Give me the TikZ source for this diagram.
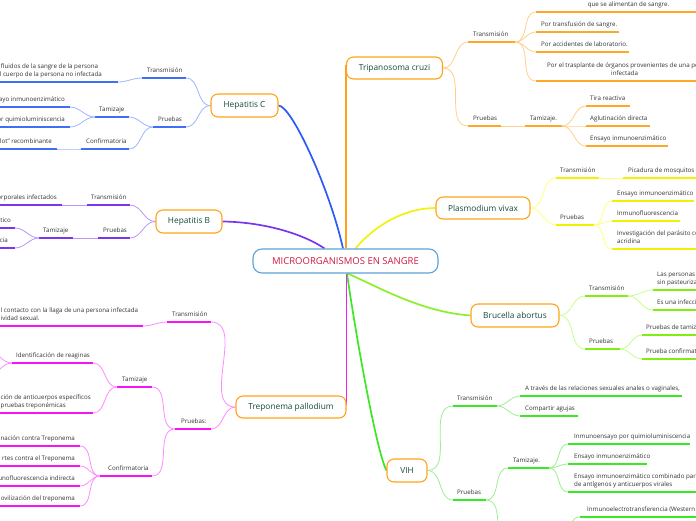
\documentclass[tikz,border=0pt]{standalone}
\usepackage{fontspec}
\setmainfont{Open Sans}
\pgfdeclarelayer{bg}
\pgfsetlayers{bg,main}
\definecolor{hcU}{HTML}{3F6FF2}\definecolor{hcL}{HTML}{9DB7FF}\definecolor{hcM}{HTML}{2D5BF5}
\definecolor{hbU}{HTML}{7A36EE}\definecolor{hbL}{HTML}{B997F5}\definecolor{hbM}{HTML}{7A36EE}
\definecolor{tpU}{HTML}{F514F5}\definecolor{tpL}{HTML}{FF8CFF}\definecolor{tpM}{HTML}{F020F0}
\definecolor{trU}{HTML}{FFA726}\definecolor{trL}{HTML}{FFD08A}\definecolor{trM}{HTML}{FFA21A}
\definecolor{plU}{HTML}{F2F200}\definecolor{plL}{HTML}{FFFF80}\definecolor{plM}{HTML}{F2F20A}
\definecolor{brU}{HTML}{80EE10}\definecolor{brL}{HTML}{C5FF8E}\definecolor{brM}{HTML}{8AF02A}
\definecolor{vhU}{HTML}{3CE826}\definecolor{vhL}{HTML}{9CF090}\definecolor{vhM}{HTML}{3CE826}
\definecolor{torange}{HTML}{FFA319}\definecolor{tgreen}{HTML}{134A3C}
\definecolor{rootb}{HTML}{5BA3DA}\definecolor{rootr}{HTML}{D01A3F}\definecolor{txt}{HTML}{333333}
\newcommand{\mmsmall}{\fontsize{6.2}{8.5}\selectfont}
\newcommand{\mmtopic}{\fontsize{8.3}{10}\selectfont}
\newcommand{\mmroot}{\fontsize{9.5}{11}\selectfont}
\newcommand{\mmsub}[8]{%
  \coordinate (#1-l) at (#3,#5); \coordinate (#1-r) at (#4,#5);
  \draw[ul,#2] (#1-l) -- (#1-r);
  \node[lbl,#6] (#1) at (#7,#5-3.5) {#8};}
\begin{document}
\begin{tikzpicture}[x=1pt,y=-1pt,
  lbl/.style={inner sep=0pt,text depth=1.6pt,text=txt,font=\mmsmall,align=left},
  topic/.style={draw=torange,line width=1.1pt,rounded corners=7pt,fill=white,text=tgreen,font=\mmtopic,inner sep=0pt},
  ul/.style={line width=1.8pt},
  thin/.style={line width=0.8pt},
  mainc/.style={line width=1.7pt}]
\useasboundingbox (0,0) rectangle (696,520);
% root and topics
\node[draw=rootb,line width=1.1pt,rounded corners=9pt,fill=white,text=rootr,font=\mmroot,
  minimum width=185pt,minimum height=24pt,inner sep=0pt] (root) at (345.5,261) {MICROORGANISMOS EN SANGRE};
\node[topic,minimum width=67pt,minimum height=23pt] (hepc) at (244.5,105.5) {Hepatitis C};
\node[topic,minimum width=66pt,minimum height=23pt] (hepb) at (189,221.5) {Hepatitis B};
\node[topic,minimum width=96pt,minimum height=22pt] (tryp) at (394.5,68) {Tripanosoma cruzi};
\node[topic,minimum width=94pt,minimum height=22pt] (plas) at (483,208) {Plasmodium vivax};
\node[topic,minimum width=88pt,minimum height=23pt] (bruc) at (515,315.5) {Brucella abortus};
\node[topic,minimum width=40pt,minimum height=23pt] (vih) at (407,470.5) {VIH};
\node[topic,minimum width=110pt,minimum height=22pt] (trep) at (291,407) {Treponema pallodium};
% Hepatitis C
\mmsub{hcT}{hcU}{142}{186}{78}{anchor=south west}{147}{Transmisión}
\mmsub{hcT1}{hcU}{0}{118}{82}{anchor=south east}{102}{s fluidos de la sangre de la persona\\el cuerpo de la persona no infectada}
\mmsub{hcP}{hcU}{153}{186}{127}{anchor=south west}{158}{Pruebas}
\mmsub{hcTz}{hcU}{95}{129}{117}{anchor=south west}{99}{Tamizaje}
\mmsub{hcTz1}{hcU}{0}{70}{107}{anchor=south east}{65}{sayo inmunoenzimático}
\mmsub{hcTz2}{hcU}{0}{70}{127}{anchor=south east}{65}{tor quimioluminiscencia}
\mmsub{hcC}{hcU}{81}{129}{149}{anchor=south west}{86}{Confirmatoria}
\mmsub{hcC1}{hcU}{0}{57}{149}{anchor=south east}{52}{olot" recombinante}
% Hepatitis B
\mmsub{hbT}{hbU}{87}{130}{205}{anchor=south west}{91}{Transmisión}
\mmsub{hbT1}{hbU}{0}{62}{205}{anchor=south east}{57}{orporales infectados}
\mmsub{hbP}{hbU}{98}{130}{238}{anchor=south west}{103}{Pruebas}
\mmsub{hbTz}{hbU}{39}{73}{238}{anchor=south west}{43}{Tamizaje}
\mmsub{hbTz1}{hbU}{0}{15}{228}{anchor=south east}{11}{tico}
\mmsub{hbTz2}{hbU}{0}{15}{248}{anchor=south east}{8}{cia}
% Treponema
\mmsub{tpT}{tpU}{167}{211}{322}{anchor=south west}{172}{Transmisión}
\mmsub{tpT1}{tpU}{0}{143}{326}{anchor=south west}{0.5}{l contacto con la llaga de una persona infectada\\ividad sexual.}
\mmsub{tpP}{tpU}{175}{211}{429}{anchor=south west}{181}{Pruebas:}
\mmsub{tpTz}{tpU}{117}{152}{387}{anchor=south west}{122}{Tamizaje}
\mmsub{tpTz1}{tpU}{12}{93}{363}{anchor=south west}{16}{Identificación de reaginas}
\mmsub{tpTz2}{tpU}{0}{93}{413}{anchor=south west}{0.5}{ción de anticuerpos específicos\\pruebas treponémicas}
\mmsub{tpC}{tpU}{100}{152}{476}{anchor=south west}{108}{Confirmatoria}
\mmsub{tpC1}{tpU}{0}{80}{446}{anchor=south east}{75}{tinación contra Treponema}
\mmsub{tpC2}{tpU}{0}{80}{466}{anchor=south east}{75}{rtes contra el Treponema}
\mmsub{tpC3}{tpU}{0}{80}{486}{anchor=south east}{75}{unofluorescencia indirecta}
\mmsub{tpC4}{tpU}{0}{80}{506}{anchor=south east}{75}{movilización del treponema}
\coordinate (tpTz1a) at (-14,349);
\coordinate (tpTz1b) at (-14,377);
% Tripanosoma
\mmsub{trT}{trU}{468}{515}{42}{anchor=south west}{473}{Transmisión}
\mmsub{trT1}{trU}{536}{700}{12}{anchor=south,align=center}{628.5}{que se alimentan de sangre.}
\mmsub{trT2}{trU}{536}{619}{32}{anchor=south west}{541}{Por transfusión de sangre.}
\mmsub{trT3}{trU}{536}{629}{52}{anchor=south west}{541}{Por accidentes de laboratorio.}
\mmsub{trT4}{trU}{536}{700}{81}{anchor=south west}{547}{Por el trasplante de órganos provenientes de una per\\\hspace*{64pt}infectada}
\mmsub{trP}{trU}{468}{501}{126}{anchor=south west}{473}{Pruebas}
\mmsub{trTz}{trU}{525}{562}{126}{anchor=south west}{530}{Tamizaje.}
\mmsub{trTz1}{trU}{586}{630}{106}{anchor=south west}{590}{Tira reactiva}
\mmsub{trTz2}{trU}{586}{650}{126}{anchor=south west}{590}{Aglutinación directa}
\mmsub{trTz3}{trU}{586}{668}{146}{anchor=south west}{590}{Ensayo inmunoenzimático}
% Plasmodium
\mmsub{plT}{plU}{556}{599}{178}{anchor=south west}{560}{Transmisión}
\mmsub{plT1}{plU}{623}{700}{178}{anchor=south west}{628}{Picadura de mosquitos a}
\mmsub{plP}{plU}{556}{594}{225}{anchor=south west}{560}{Pruebas}
\mmsub{plP1}{plU}{612}{694}{201}{anchor=south west}{617}{Ensayo inmunoenzimático}
\mmsub{plP2}{plU}{612}{680}{221}{anchor=south west}{617}{Inmunofluorescencia}
\mmsub{plP3}{plU}{612}{700}{249}{anchor=south west}{617}{Investigación del parásito co\\acridina}
% Brucella
\mmsub{brT}{brU}{585}{628}{296}{anchor=south west}{589}{Transmisión}
\mmsub{brT1}{brU}{653}{700}{290}{anchor=south west}{657}{Las personas\\sin pasteuriza}
\mmsub{brT2}{brU}{653}{700}{310}{anchor=south west}{657}{Es una infecci}
\mmsub{brP}{brU}{585}{620}{349}{anchor=south west}{589}{Pruebas}
\mmsub{brP1}{brU}{642}{700}{335}{anchor=south west}{646}{Pruebas de tamiza}
\mmsub{brP2}{brU}{642}{700}{359}{anchor=south west}{646}{Prueba confirmato}
% VIH
\mmsub{vhT}{vhU}{453}{497}{406}{anchor=south west}{457}{Transmisión}
\mmsub{vhT1}{vhU}{520}{682}{396}{anchor=south west}{525}{A través de las relaciones sexuales anales o vaginales,}
\mmsub{vhT2}{vhU}{520}{578}{416}{anchor=south west}{525}{Compartir agujas}
\mmsub{vhP}{vhU}{453}{486}{500}{anchor=south west}{457}{Pruebas}
\mmsub{vhTz}{vhU}{508}{549}{468}{anchor=south west}{513}{Tamizaje.}
\mmsub{vhTz1}{vhU}{568}{690}{444}{anchor=south west}{574}{Inmunoensayo por quimioluminiscencia}
\mmsub{vhTz2}{vhU}{568}{647}{464}{anchor=south west}{574}{Ensayo inmunoenzimático}
\mmsub{vhTz3}{vhU}{568}{700}{492}{anchor=south west}{574}{Ensayo inmunoenzimático combinado para l\\de antígenos y anticuerpos virales}
\mmsub{vhC1}{vhU}{580}{700}{517}{anchor=south west}{587}{Inmunoelectrotransferencia (Western b}
\coordinate (vhC-l) at (510,548);
\coordinate (vhC-r) at (556,548);
% connector on top for orange trunk
\draw[line width=2pt,trM] ([yshift=3pt]tryp.west) -- (tryp.west |- root.north);
% connectors
\begin{pgfonlayer}{bg}
\fill[white] (0,0) rectangle (696,520);
% main
\draw[mainc,hcM] (hepc.east) .. controls (292,106) and (330,190) .. ([xshift=-2.5pt]root.north);
\draw[mainc,hbM] (hepb.east) .. controls (260,222) and (300,232) .. ([xshift=-21pt]root.north);
\draw[mainc,plM] ([xshift=10pt]root.north) .. controls (375,225) and (405,208) .. (plas.west);
\draw[mainc,brM] ([xshift=2pt]root.south) .. controls (375,285) and (420,312) .. (bruc.west);
\draw[mainc,vhM] ([xshift=1.5pt]root.south) .. controls (355,330) and (376,450) .. (vih.west);
\draw[mainc,tpM] (trep.east |- root.south) -- ([yshift=2pt]trep.east);
% Hepatitis C
\draw[thin,hcL] (hcT-r) to[out=0,in=180] (hepc.west);
\draw[thin,hcL] (hcP-r) to[out=0,in=180] (hepc.west);
\draw[thin,hcL] (hcT1-r) to[out=0,in=180] (hcT-l);
\draw[thin,hcL] (hcTz-r) to[out=0,in=180] (hcP-l);
\draw[thin,hcL] (hcC-r) to[out=0,in=180] (hcP-l);
\draw[thin,hcL] (hcTz1-r) to[out=0,in=180] (hcTz-l);
\draw[thin,hcL] (hcTz2-r) to[out=0,in=180] (hcTz-l);
\draw[thin,hcL] (hcC1-r) to[out=0,in=180] (hcC-l);
% Hepatitis B
\draw[thin,hbL] (hbT-r) to[out=0,in=180] (hepb.west);
\draw[thin,hbL] (hbP-r) to[out=0,in=180] (hepb.west);
\draw[thin,hbL] (hbT1-r) -- (hbT-l);
\draw[thin,hbL] (hbTz-r) -- (hbP-l);
\draw[thin,hbL] (hbTz1-r) to[out=0,in=180] (hbTz-l);
\draw[thin,hbL] (hbTz2-r) to[out=0,in=180] (hbTz-l);
% Treponema
\draw[thin,tpL] (tpT-r) to[out=0,in=180] (trep.west);
\draw[thin,tpL] (tpP-r) to[out=0,in=180] (trep.west);
\draw[thin,tpL] (tpT1-r) to[out=0,in=180] (tpT-l);
\draw[thin,tpL] (tpTz-r) to[out=0,in=180] (tpP-l);
\draw[thin,tpL] (tpC-r) to[out=0,in=180] (tpP-l);
\draw[thin,tpL] (tpTz1-r) to[out=0,in=180] (tpTz-l);
\draw[thin,tpL] (tpTz2-r) to[out=0,in=180] (tpTz-l);
\draw[thin,tpL] (tpC1-r) to[out=0,in=180] (tpC-l);
\draw[thin,tpL] (tpC2-r) to[out=0,in=180] (tpC-l);
\draw[thin,tpL] (tpC3-r) to[out=0,in=180] (tpC-l);
\draw[thin,tpL] (tpC4-r) to[out=0,in=180] (tpC-l);
\draw[thin,tpL] (tpTz1a) to[out=0,in=180] (tpTz1-l);
\draw[thin,tpL] (tpTz1b) to[out=0,in=180] (tpTz1-l);
% Tripanosoma
\draw[thin,trL] (tryp.east) to[out=0,in=180] (trT-l);
\draw[thin,trL] (tryp.east) to[out=0,in=180] (trP-l);
\draw[thin,trL] (trT-r) to[out=0,in=180] (trT1-l);
\draw[thin,trL] (trT-r) to[out=0,in=180] (trT2-l);
\draw[thin,trL] (trT-r) to[out=0,in=180] (trT3-l);
\draw[thin,trL] (trT-r) to[out=0,in=180] (trT4-l);
\draw[thin,trL] (trP-r) -- (trTz-l);
\draw[thin,trL] (trTz-r) to[out=0,in=180] (trTz1-l);
\draw[thin,trL] (trTz-r) to[out=0,in=180] (trTz2-l);
\draw[thin,trL] (trTz-r) to[out=0,in=180] (trTz3-l);
% Plasmodium
\draw[thin,plL] (plas.east) to[out=0,in=180] (plT-l);
\draw[thin,plL] (plas.east) to[out=0,in=180] (plP-l);
\draw[thin,plL] (plT-r) -- (plT1-l);
\draw[thin,plL] (plP-r) to[out=0,in=180] (plP1-l);
\draw[thin,plL] (plP-r) to[out=0,in=180] (plP2-l);
\draw[thin,plL] (plP-r) to[out=0,in=180] (plP3-l);
% Brucella
\draw[thin,brL] (bruc.east) to[out=0,in=180] (brT-l);
\draw[thin,brL] (bruc.east) to[out=0,in=180] (brP-l);
\draw[thin,brL] (brT-r) to[out=0,in=180] (brT1-l);
\draw[thin,brL] (brT-r) to[out=0,in=180] (brT2-l);
\draw[thin,brL] (brP-r) to[out=0,in=180] (brP1-l);
\draw[thin,brL] (brP-r) to[out=0,in=180] (brP2-l);
% VIH
\draw[thin,vhL] (vih.east) to[out=0,in=180] (vhT-l);
\draw[thin,vhL] (vih.east) to[out=0,in=180] (vhP-l);
\draw[thin,vhL] (vhT-r) to[out=0,in=180] (vhT1-l);
\draw[thin,vhL] (vhT-r) to[out=0,in=180] (vhT2-l);
\draw[thin,vhL] (vhP-r) to[out=0,in=180] (vhTz-l);
\draw[thin,vhL] (vhP-r) to[out=0,in=180] (vhC-l);
\draw[thin,vhL] (vhTz-r) to[out=0,in=180] (vhTz1-l);
\draw[thin,vhL] (vhTz-r) to[out=0,in=180] (vhTz2-l);
\draw[thin,vhL] (vhTz-r) to[out=0,in=180] (vhTz3-l);
\draw[thin,vhL] (vhC-r) to[out=0,in=180] (vhC1-l);
\end{pgfonlayer}
\end{tikzpicture}
\end{document}
